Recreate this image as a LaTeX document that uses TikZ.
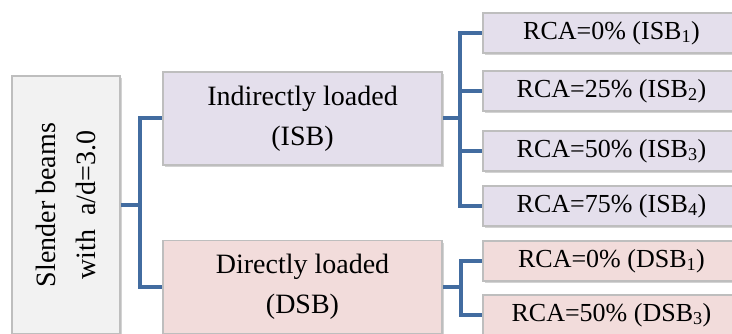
\documentclass[tikz,border=0pt]{standalone}
\usepackage{fontspec}
\setmainfont{Liberation Serif}
\usetikzlibrary{shadows}

\definecolor{isbFill}{RGB}{228,223,236}
\definecolor{dsbFill}{RGB}{242,220,219}
\definecolor{beamFill}{RGB}{242,242,242}
\definecolor{boxLine}{RGB}{190,190,190}
\definecolor{treeLine}{RGB}{66,108,160}

\tikzstyle{catBox}=[rectangle,draw=boxLine,line width=1.5pt,inner sep=0pt,
  drop shadow={shadow xshift=1.5pt,shadow yshift=-2.5pt,opacity=0.35},
  font=\fontsize{26}{40}\selectfont,align=center]
\tikzstyle{mainNode}=[catBox,minimum width=279,minimum height=93,font=\fontsize{28}{40}\selectfont]
\tikzstyle{subNode}=[catBox,minimum width=257,minimum height=40]
\tikzstyle{branch}=[draw=treeLine,line width=4pt]

\begin{document}
\begin{tikzpicture}[x=1pt,y=-1pt]

  \path[use as bounding box,clip] (0,0) rectangle (732,334);

  \node[catBox,fill=beamFill,minimum width=108,minimum height=258] (slender) at (66,205) {};
  \node[rotate=90,align=center,font=\fontsize{28}{40}\selectfont] (slendertext) at (slender) {Slender beams\\with\hspace{14pt}a/d=3.0};

  \node[mainNode,fill=isbFill] (isb) at (302.5,118.5) {Indirectly loaded\\(ISB)};
  \node[mainNode,fill=dsbFill] (dsb) at (302.5,287) {Directly loaded\\(DSB)};

  \node[subNode,fill=isbFill] (isb1) at (611.5,33) {RCA=0\% (ISB\textsubscript{1})};
  \node[subNode,fill=isbFill] (isb2) at (611.5,91) {RCA=25\% (ISB\textsubscript{2})};
  \node[subNode,fill=isbFill] (isb3) at (611.5,151) {RCA=50\% (ISB\textsubscript{3})};
  \node[subNode,fill=isbFill] (isb4) at (611.5,206) {RCA=75\% (ISB\textsubscript{4})};
  \node[subNode,fill=dsbFill] (dsb1) at (611.5,261) {RCA=0\% (DSB\textsubscript{1})};
  \node[subNode,fill=dsbFill] (dsb3) at (611.5,315) {RCA=50\% (DSB\textsubscript{3})};

  \coordinate (j0) at (140,205);
  \coordinate (j1) at (460,118.5);
  \coordinate (j2) at (461,287);

  \path[branch](slender.east)--(j0);
  \path[branch](j0)|-(isb.west);
  \path[branch](j0)|-(dsb.west);

  \path[branch](isb.east)--(j1);
  \path[branch](j1)|-(isb1.west);
  \path[branch](j1)|-(isb2.west);
  \path[branch](j1)|-(isb3.west);
  \path[branch](j1)|-(isb4.west);

  \path[branch](dsb.east)--(j2);
  \path[branch](j2)|-(dsb1.west);
  \path[branch](j2)|-(dsb3.west);

\end{tikzpicture}
\end{document}
